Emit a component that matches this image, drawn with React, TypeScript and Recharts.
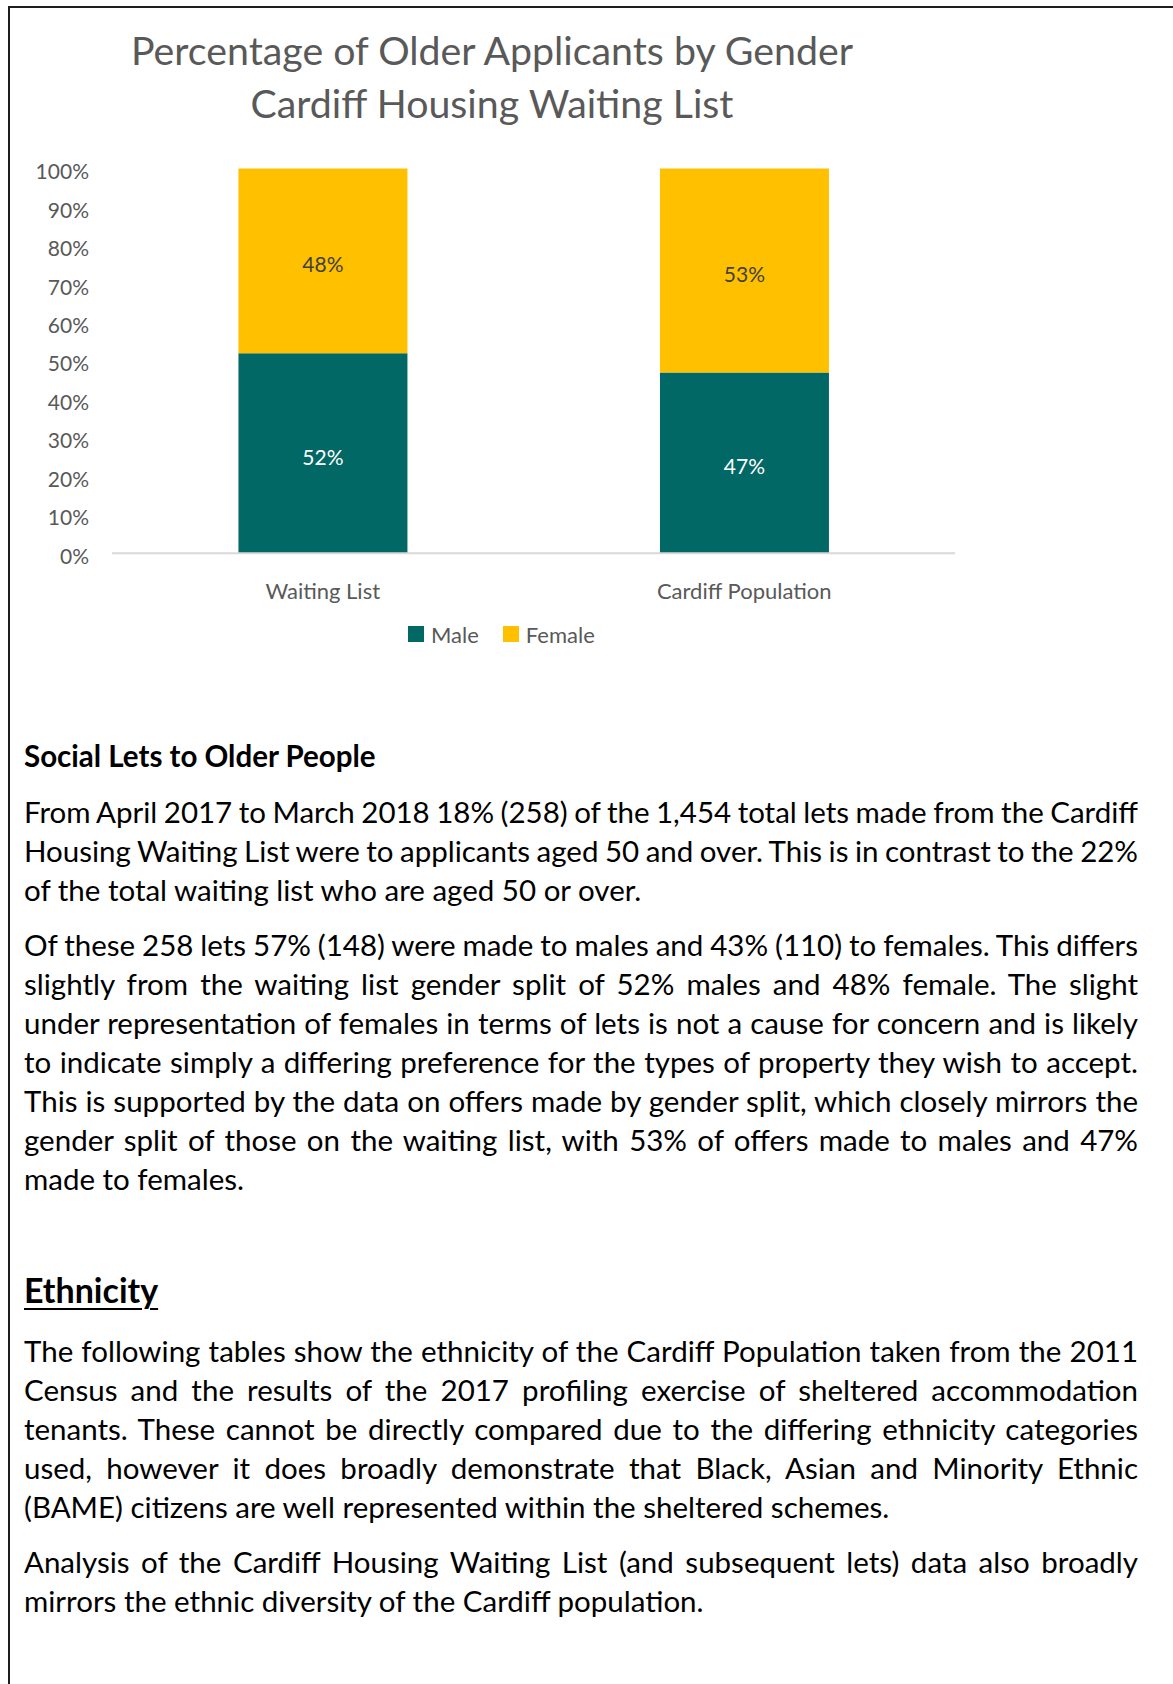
import React from "react";
import { BarChart, Bar, XAxis, YAxis, LabelList } from "recharts";

const categories = ["Waiting List", "Cardiff Population"];
const maleValues = [52, 47];
const femaleValues = [48, 53];
const yTicks = [0, 10, 20, 30, 40, 50, 60, 70, 80, 90, 100];
const seriesNames = ["Male", "Female"];
const seriesColors = ["#026865", "#FFC000"];
const labelColors = ["#FFFFFF", "#404040"];

const titleLines = [
  "Percentage of Older Applicants by Gender",
  "Cardiff Housing Waiting List",
];

const heading1 = "Social Lets to Older People";
const para1 = [
  "From April 2017 to March 2018 18% (258) of the 1,454 total lets made from the Cardiff",
  "Housing Waiting List were to applicants aged 50 and over. This is in contrast to the 22%",
  "of the total waiting list who are aged 50 or over.",
];
const para2 = [
  "Of these 258 lets 57% (148) were made to males and 43% (110) to females. This differs",
  "slightly from the waiting list gender split of 52% males and 48% female. The slight",
  "under representation of females in terms of lets is not a cause for concern and is likely",
  "to indicate simply a differing preference for the types of property they wish to accept.",
  "This is supported by the data on offers made by gender split, which closely mirrors the",
  "gender split of those on the waiting list, with 53% of offers made to males and 47%",
  "made to females.",
];
const heading2 = "Ethnicity";
const para3 = [
  "The following tables show the ethnicity of the Cardiff Population taken from the 2011",
  "Census and the results of the 2017 profiling exercise of sheltered accommodation",
  "tenants. These cannot be directly compared due to the differing ethnicity categories",
  "used, however it does broadly demonstrate that Black, Asian and Minority Ethnic",
  "(BAME) citizens are well represented within the sheltered schemes.",
];
const para4 = [
  "Analysis of the Cardiff Housing Waiting List (and subsequent lets) data also broadly",
  "mirrors the ethnic diversity of the Cardiff population.",
];

const data = categories.map((name, i) => ({
  name,
  male: maleValues[i],
  female: femaleValues[i],
}));

const FONT = "Lato, 'Open Sans', sans-serif";
const GREY = "#595959";

const YTick = (props: any) => {
  const { x, y, payload } = props;
  return (
    <text x={x} y={y + 3} dy="0.36em" textAnchor="end" fill={GREY} fontSize={21} fontFamily={FONT}>
      {payload.value}%
    </text>
  );
};

const XTick = (props: any) => {
  const { x, y, payload } = props;
  return (
    <text x={x} y={y + 46} textAnchor="middle" fill={GREY} fontSize={22} fontFamily={FONT}>
      {payload.value}
    </text>
  );
};

const makeLabel = (color: string) => (props: any) => {
  const { x, y, width, height, value } = props;
  return (
    <text
      x={x + width / 2}
      y={y + height / 2 + 4}
      dy="0.36em"
      textAnchor="middle"
      fill={color}
      fontSize={21}
      fontFamily={FONT}
    >
      {value}%
    </text>
  );
};

const Para = ({ lines, top }: { lines: string[]; top: number }) => (
  <div style={{ position: "absolute", left: 24, top, width: 1114 }}>
    {lines.map((l, i) => {
      const last = i === lines.length - 1;
      return (
        <div
          key={i}
          style={{
            height: 39,
            lineHeight: "39px",
            whiteSpace: "nowrap",
            wordSpacing: last ? 0 : -2,
            textAlign: last ? "left" : "justify",
            textAlignLast: last ? "left" : "justify",
          } as any}
        >
          {l}
        </div>
      );
    })}
  </div>
);

export default function App() {
  return (
    <div
      style={{
        position: "absolute",
        left: 0,
        top: 0,
        width: 1173,
        height: 1684,
        overflow: "hidden",
        background: "#fff",
        fontFamily: FONT,
        color: "#000",
        fontSize: 29.5,
      }}
    >
      {/* page frame */}
      <div
        style={{
          position: "absolute",
          left: 8,
          top: 6,
          width: 1173,
          height: 1700,
          borderTop: "2px solid #1e1e1e",
          borderLeft: "2px solid #1e1e1e",
        }}
      />

      {/* title */}
      <div
        style={{
          position: "absolute",
          left: 0,
          top: 24,
          width: 984,
          textAlign: "center",
          color: GREY,
          fontSize: 39.3,
          lineHeight: "52.5px",
        }}
      >
        {titleLines.map((t, i) => (
          <div key={i}>{t}</div>
        ))}
      </div>

      {/* chart */}
      <div style={{ position: "absolute", left: 0, top: 0 }}>
        <BarChart
          width={1000}
          height={700}
          data={data}
          margin={{ top: 168.6, right: 45, left: 0, bottom: 86.8 }}
          barCategoryGap="30%"
        >
          <XAxis
            dataKey="name"
            height={60}
            tickLine={false}
            tickSize={0}
            tickMargin={0}
            axisLine={{ stroke: "#d9d9d9", strokeWidth: 2 }}
            tick={<XTick />}
          />
          <YAxis
            type="number"
            domain={[0, 100]}
            ticks={yTicks}
            width={112}
            axisLine={false}
            tickLine={false}
            tickSize={0}
            tickMargin={23}
            tick={<YTick />}
            interval={0}
          />
          <Bar dataKey="male" name={seriesNames[0]} stackId="a" fill={seriesColors[0]} isAnimationActive={false}>
            <LabelList dataKey="male" content={makeLabel(labelColors[0])} />
          </Bar>
          <Bar dataKey="female" name={seriesNames[1]} stackId="a" fill={seriesColors[1]} isAnimationActive={false}>
            <LabelList dataKey="female" content={makeLabel(labelColors[1])} />
          </Bar>
        </BarChart>
      </div>

      {/* legend */}
      <div
        style={{
          position: "absolute",
          left: 408,
          top: 619,
          height: 30,
          display: "flex",
          alignItems: "center",
          color: GREY,
          fontSize: 22,
        }}
      >
        {seriesNames.map((n, i) => (
          <div key={n} style={{ display: "flex", alignItems: "center", marginRight: 24 }}>
            <div style={{ width: 16, height: 16, background: seriesColors[i], marginRight: 7 }} />
            <span>{n}</span>
          </div>
        ))}
      </div>

      {/* text */}
      <div style={{ position: "absolute", left: 24, top: 736, fontWeight: 700, lineHeight: "39px", whiteSpace: "nowrap" }}>
        {heading1}
      </div>
      <Para lines={para1} top={792} />
      <Para lines={para2} top={925} />
      <div
        style={{
          position: "absolute",
          left: 24,
          top: 1270,
          fontWeight: 700,
          fontSize: 34,
          lineHeight: "40px",
          whiteSpace: "nowrap",
          textDecoration: "underline",
          textDecorationThickness: 2,
          textUnderlineOffset: 5,
        } as any}
      >
        {heading2}
      </div>
      <Para lines={para3} top={1331} />
      <Para lines={para4} top={1542} />
    </div>
  );
}
